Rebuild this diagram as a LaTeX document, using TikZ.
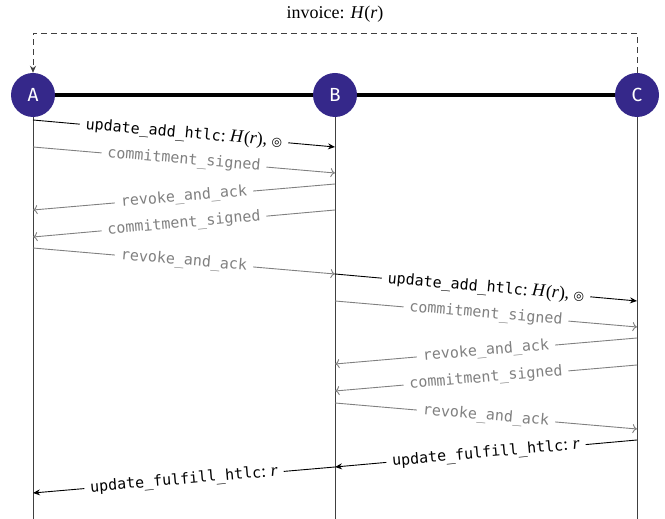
\documentclass[tikz,border=0pt]{standalone}
\usepackage{fontspec}
\setmainfont{Liberation Serif}
\setmonofont{DejaVu Sans Mono}
\newfontfamily\peerfont{Fira Sans}
\newfontfamily\symfont{DejaVu Sans}
\usetikzlibrary{arrows.meta}
\definecolor{peerfill}{HTML}{35288A}
\definecolor{ctlgray}{gray}{0.5}
% serif part of a message label: ": H(r), ◎" or ": r"
\newcommand\hashpart{{\rmfamily\fontsize{18}{20}\selectfont:\ \textit{H}(\textit{r}), {\symfont\fontsize{12}{14}\selectfont ◎}}}
\newcommand\preimpart{{\rmfamily\fontsize{18}{20}\selectfont:\ \textit{r}}}

\begin{document}
\begin{tikzpicture}[x=1pt,y=1pt,
  peer/.style={circle, fill=peerfill, text=white, minimum size=44pt, inner sep=0pt,
               font=\peerfont\fontsize{19}{20}\selectfont},
  life/.style={draw=black!75, line width=0.9pt},
  msg/.style={line width=0.9pt, draw=black, -{Stealth[length=7pt,width=6pt]}},
  ctl/.style={line width=0.9pt, draw=ctlgray, -{To[length=4.5pt,width=9pt]}},
  lbl/.style={sloped, fill=white, inner xsep=6pt, inner ysep=0pt,
              font=\ttfamily\fontsize{15}{16}\selectfont},
  ctllbl/.style={lbl, text=ctlgray}
]
\useasboundingbox (0,0) rectangle (665,519);

% peers
\node[peer] (A) at (33,424) {A};
\node[peer] (B) at (335,424) {B};
\node[peer] (C) at (637,424) {C};

% channels
\draw[line width=4pt] (A) -- (B);
\draw[line width=4pt] (B) -- (C);

% invoice handed from C to A
\coordinate (invC) at (637,486);
\coordinate (invA) at (33,486);
\draw[draw=black!75, line width=0.9pt, dash pattern=on 6pt off 4pt,
      -{Stealth[length=7pt,width=6pt]}]
  (C.north) -- (invC) -- (invA) -- (A.north);
\node[font=\fontsize{18}{20}\selectfont] (inv) at (335,505) {invoice: \textit{H}(\textit{r})};

% lifelines
\coordinate (Aend) at (33,0);
\coordinate (Bend) at (335,0);
\coordinate (Cend) at (637,0);
\draw[life] (A.south) -- (Aend);
\draw[life] (B.south) -- (Bend);
\draw[life] (C.south) -- (Cend);

% message end points on the lifelines
\coordinate (a1) at (33,399);  \coordinate (b1) at (335,372);
\coordinate (a2) at (33,372);  \coordinate (b2) at (335,346);
\coordinate (b3) at (335,335); \coordinate (a3) at (33,309);
\coordinate (b4) at (335,309); \coordinate (a4) at (33,282);
\coordinate (a5) at (33,271);  \coordinate (b5) at (335,245);
\coordinate (b6) at (335,245); \coordinate (c6) at (637,218);
\coordinate (b7) at (335,218); \coordinate (c7) at (637,192);
\coordinate (c8) at (637,181); \coordinate (b8) at (335,155);
\coordinate (c9) at (637,154); \coordinate (b9) at (335,128);
\coordinate (b10) at (335,116); \coordinate (c10) at (637,90);
\coordinate (c11) at (637,79); \coordinate (b11) at (335,52);
\coordinate (b12) at (335,52); \coordinate (a12) at (33,26);

% A -- B
\draw[msg] (a1) -- node[lbl] {update\_add\_htlc\hashpart} (b1);
\draw[ctl] (a2) -- node[ctllbl] {commitment\_signed} (b2);
\draw[ctl] (b3) -- node[ctllbl] {revoke\_and\_ack} (a3);
\draw[ctl] (b4) -- node[ctllbl] {commitment\_signed} (a4);
\draw[ctl] (a5) -- node[ctllbl] {revoke\_and\_ack} (b5);

% B -- C
\draw[msg] (b6) -- node[lbl] {update\_add\_htlc\hashpart} (c6);
\draw[ctl] (b7) -- node[ctllbl] {commitment\_signed} (c7);
\draw[ctl] (c8) -- node[ctllbl] {revoke\_and\_ack} (b8);
\draw[ctl] (c9) -- node[ctllbl] {commitment\_signed} (b9);
\draw[ctl] (b10) -- node[ctllbl] {revoke\_and\_ack} (c10);

% settlement back to A
\draw[msg] (c11) -- node[lbl] {update\_fulfill\_htlc\preimpart} (b11);
\draw[msg] (b12) -- node[lbl] {update\_fulfill\_htlc\preimpart} (a12);
\end{tikzpicture}
\end{document}
